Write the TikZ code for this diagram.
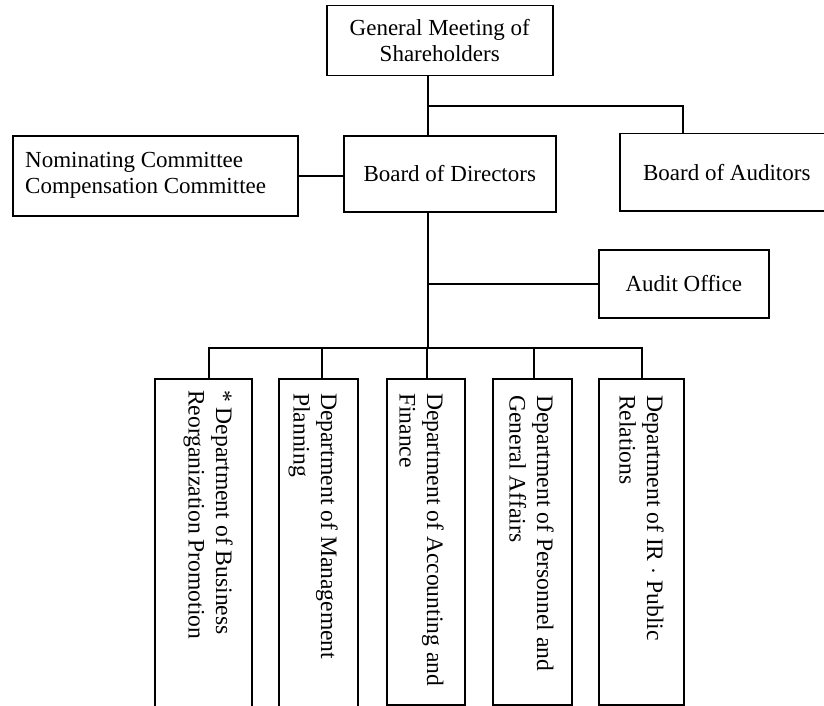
\documentclass[tikz,border=0pt]{standalone}
\usepackage{fontspec}
\setmainfont{Liberation Serif}
\begin{document}
\begin{tikzpicture}[x=1pt,y=-1pt,
  box/.style={draw, line width=1.5pt, inner sep=0pt, anchor=north west,
    font=\fontsize{23}{26.5}\selectfont, align=center},
  lbl/.style={inner sep=0pt, font=\fontsize{23}{26}\selectfont},
  dtext/.style={inner sep=0pt, rotate=-90, anchor=north west, align=left,
    font=\fontsize{23.6}{27.5}\selectfont},
  conn/.style={line width=1.5pt, line cap=rect}]
\useasboundingbox (0,0) rectangle (824,706);
\clip (0,0) rectangle (824,706);
% upper boxes
\node[box, minimum width=226pt, minimum height=70pt] (gm) at (326,5) {General Meeting of\\Shareholders};
\node[box, minimum width=285pt, minimum height=80pt] (cm) at (12,135) {};
\node[lbl, anchor=west, align=left] (cmt) at (25,175) {Nominating Committee\\Compensation Committee};
\node[box, minimum width=212pt, minimum height=76pt] (bd) at (343,135) {Board of Directors};
\node[box, minimum width=214pt, minimum height=77pt] (ba) at (619,133) {Board of Auditors};
\node[box, minimum width=170pt, minimum height=68pt] (ao) at (598,249) {Audit Office};
% department boxes
\node[box, minimum width=97pt, minimum height=328pt] (d1) at (154,378) {};
\node[box, minimum width=79pt, minimum height=328pt] (d2) at (278,378) {};
\node[box, minimum width=78pt, minimum height=326pt] (d3) at (386,378) {};
\node[box, minimum width=79pt, minimum height=326pt] (d4) at (492,378) {};
\node[box, minimum width=85pt, minimum height=326pt] (d5) at (598,378) {};
\node[dtext] (t1) at (233,390) {* Department of Business\\Reorganization Promotion};
\node[dtext] (t2) at (338,393) {Department of Management\\Planning};
\node[dtext] (t3) at (444,393) {Department of Accounting and\\Finance};
\node[dtext] (t4) at (554,395) {Department of Personnel and\\General Affairs};
\node[dtext] (t5) at (664,395) {Department of IR $\cdot$ Public\\Relations};
% connector coordinates
\coordinate (tx) at (428,0);
\coordinate (ax) at (683,0);
\coordinate (j1) at (428,106);
\coordinate (bus) at (0,348);
\coordinate (x1) at (209,0);
\coordinate (x2) at (322,0);
\coordinate (x3) at (427,0);
\coordinate (x4) at (534,0);
\coordinate (x5) at (642,0);
% connectors
\draw[conn] (gm.south -| tx) -- (bd.north -| tx);
\draw[conn] (j1) -| (ba.north -| ax);
\draw[conn] (cm.east) -- (cm.east -| bd.west);
\draw[conn] (bd.south -| tx) -- (bus -| tx);
\draw[conn] (ao.west) -- (ao.west -| tx);
\draw[conn] (bus -| x1) -- (bus -| x5);
\draw[conn] (bus -| x1) -- (d1.north -| x1);
\draw[conn] (bus -| x2) -- (d2.north -| x2);
\draw[conn] (bus -| x3) -- (d3.north -| x3);
\draw[conn] (bus -| x4) -- (d4.north -| x4);
\draw[conn] (bus -| x5) -- (d5.north -| x5);
\end{tikzpicture}
\end{document}
